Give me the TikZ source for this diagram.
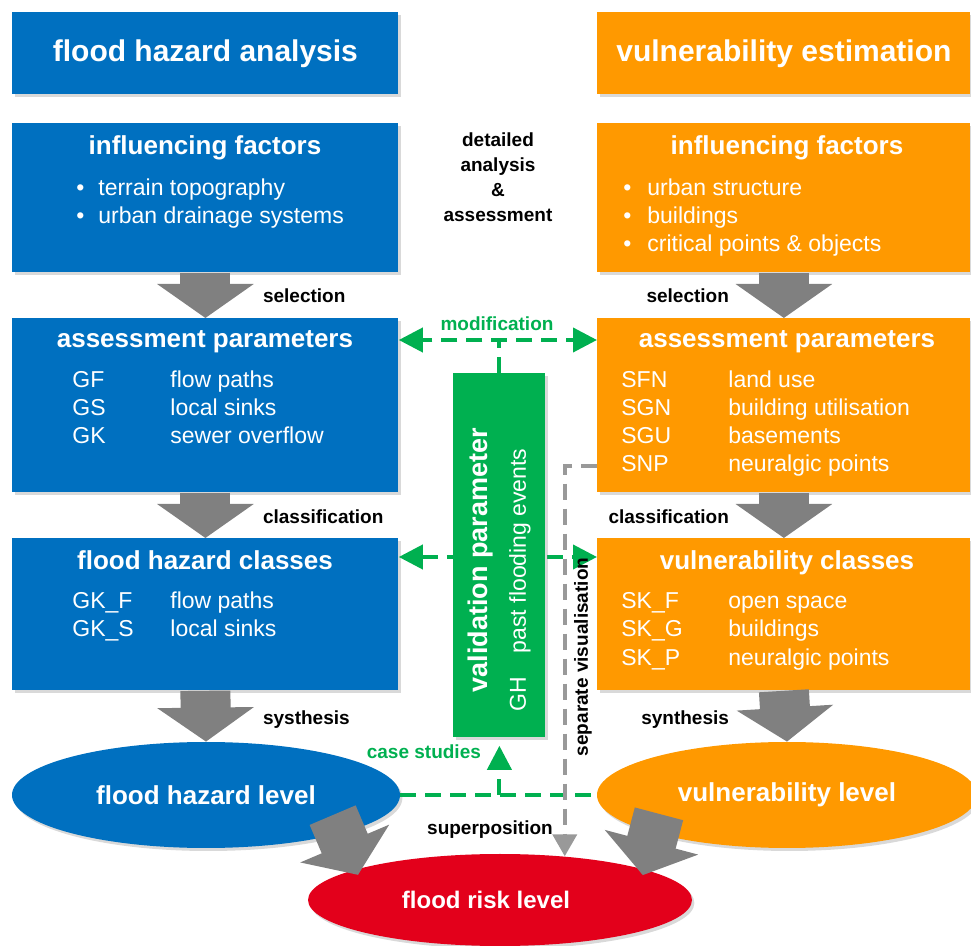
\documentclass[tikz,border=0pt]{standalone}
\usepackage{fontspec}
\setmainfont{Liberation Sans}
\usetikzlibrary{arrows.meta,shadows,shapes.geometric}

\definecolor{hazblue}{RGB}{0,112,192}
\definecolor{vulorange}{RGB}{255,153,0}
\definecolor{valgreen}{RGB}{0,176,80}
\definecolor{riskred}{RGB}{227,0,27}
\definecolor{arrgray}{RGB}{128,128,128}

\newcommand\hdfont{\fontsize{15}{18}\selectfont\bfseries}
\newcommand\ttlfont{\fontsize{13}{15}\selectfont\bfseries}
\newcommand\lblfont{\fontsize{9.5}{12.5}\selectfont\bfseries}

\tikzset{
    box/.style={anchor=north west, inner sep=0pt, text=white,
        drop shadow={shadow xshift=1.2pt, shadow yshift=-1.5pt, opacity=0.3}},
    haz/.style={box, fill=hazblue, minimum width=193pt},
    vul/.style={box, fill=vulorange, minimum width=186.5pt},
    level/.style={ellipse, inner sep=0pt, text=white, font=\ttlfont, minimum height=53pt,
        drop shadow={shadow xshift=1.2pt, shadow yshift=-1.5pt, opacity=0.3}},
    title/.style={anchor=base, text=white, font=\ttlfont},
    item/.style={anchor=base west, inner sep=0pt, text=white},
    lbl/.style={font=\lblfont},
    flow/.style={draw=arrgray, line width=25pt, -{Triangle[length=17pt, width=47.5pt]}},
    gdash/.style={draw=valgreen, line width=2pt, dash pattern=on 8pt off 4.5pt},
    gtip/.style={-{Triangle[length=12pt, width=12pt]}},
    gtips/.style={{Triangle[length=12pt, width=12pt]}-{Triangle[length=12pt, width=12pt]}},
    sepline/.style={draw=arrgray!80, line width=2pt, dash pattern=on 8pt off 4.5pt,
        -{Triangle[length=11pt, width=12pt]}}
}

\begin{document}
\begin{tikzpicture}[x=0.5pt, y=-0.5pt, font=\fontsize{11.5}{14}\selectfont]
        \useasboundingbox (0,0) rectangle (971,946);

        \node[haz, minimum height=41pt, font=\hdfont] (hazhead) at (12,12) {flood hazard analysis};
        \node[vul, minimum height=41pt, font=\hdfont] (vulhead) at (597,12) {vulnerability estimation};

        \node[haz, minimum height=74.5pt] (hazinf) at (12,123) {};
        \node[vul, minimum height=74.5pt] (vulinf) at (597,123) {};
        \node[haz, minimum height=87pt] (hazpar) at (12,318) {};
        \node[vul, minimum height=87pt] (vulpar) at (597,318) {};
        \node[haz, minimum height=76pt] (hazcls) at (12,538) {};
        \node[vul, minimum height=76pt] (vulcls) at (597,538) {};

        \node[title] (hazinftitle) at (205,155) {influencing factors};
        \node[title] (vulinftitle) at (787,155) {influencing factors};
        \node[title] (hazpartitle) at (205,348) {assessment parameters};
        \node[title] (vulpartitle) at (787,348) {assessment parameters};
        \node[title] (hazclstitle) at (205,570) {flood hazard classes};
        \node[title] (vulclstitle) at (787,570) {vulnerability classes};

        \foreach \y/\t in {196/terrain topography, 224/urban drainage systems}
        {
            \node[item] (hb\y) at (76,\y) {\textbullet};
            \node[item] (ht\y) at (98,\y) {\t};
        }
        \foreach \y/\t in {196/urban structure, 224/buildings, 252/critical points \& objects}
        {
            \node[item] (vb\y) at (623,\y) {\textbullet};
            \node[item] (vt\y) at (647,\y) {\t};
        }

        \foreach \y/\c/\d in {388/GF/flow paths, 416/GS/local sinks, 444/GK/sewer overflow}
        {
            \node[item] (hc\y) at (72,\y) {\c};
            \node[item] (hd\y) at (170,\y) {\d};
        }
        \foreach \y/\c/\d in {388/SFN/land use, 416/SGN/building utilisation, 444/SGU/basements, 472/SNP/neuralgic points}
        {
            \node[item] (vc\y) at (621,\y) {\c};
            \node[item] (vd\y) at (728,\y) {\d};
        }

        \foreach \y/\c/\d in {609/GK\_F/flow paths, 637/GK\_S/local sinks}
        {
            \node[item] (hk\y) at (72,\y) {\c};
            \node[item] (hl\y) at (170,\y) {\d};
        }
        \foreach \y/\c/\d in {609/SK\_F/open space, 637/SK\_G/buildings, 666/SK\_P/neuralgic points}
        {
            \node[item] (vk\y) at (621,\y) {\c};
            \node[item] (vl\y) at (728,\y) {\d};
        }

        \node[level, fill=hazblue, minimum width=194pt] (hazlevel) at (206,795) {flood hazard level};
        \node[level, fill=vulorange, minimum width=190pt] (vullevel) at (787,795) {vulnerability level};
        \node[level, fill=riskred, minimum width=192pt, minimum height=46pt, font=\fontsize{12}{14}\selectfont\bfseries] (risklevel) at (500,900) {flood risk level\hspace*{14pt}};

        \draw[gdash, gtips] ([yshift=-9.5pt]hazcls.north east) -- ([yshift=-9.5pt]vulcls.north west);

        \node[box, fill=valgreen, minimum width=46pt, minimum height=182pt] (valpar) at (453,373) {};
        \node[rotate=90, text=white, font=\fontsize{13.5}{16}\selectfont\bfseries] (valtitle) at (481,560) {validation parameter};
        \node[rotate=90, anchor=west, inner sep=0pt, text=white] (valitem) at (520,712) {GH\hspace{12pt}past flooding events};

        \draw[flow] (hazinf) -- (hazpar);
        \draw[flow] (vulinf) -- (vulpar);
        \draw[flow] (hazpar) -- (hazcls);
        \draw[flow] (vulpar) -- (vulcls);
        \draw[flow] (hazcls.south) -- (hazlevel.north);
        \draw[flow] (vulcls.south) -- (vullevel.north);
        \draw[flow, shorten <=-10pt, shorten >=-3pt] (hazlevel.-16) -- (risklevel.168);
        \draw[flow, shorten <=-10pt, shorten >=-3pt] (vullevel.196) -- (risklevel.12);

        \draw[gdash, gtip] (valpar.north) |- ([yshift=-11pt]hazpar.north east);
        \draw[gdash, gtip] (valpar.north) |- ([yshift=-11pt]vulpar.north west);
        \draw[gdash] (hazlevel.east) -- (vullevel.west);
        \draw[gdash, gtip] (valpar.south |- hazlevel.east) -- ([yshift=-4pt]valpar.south);
        \draw[sepline] ([yshift=13.5pt]vulpar.south west) -| (risklevel.34);

        \node[lbl, align=center] (detail) at (498,177) {detailed\\analysis\\\&\\assessment};
        \node[lbl, anchor=west] (hazsel) at (256,296) {selection};
        \node[lbl, anchor=east] (vulsel) at (736,296) {selection};
        \node[lbl, anchor=west] (hazclass) at (256,517) {classification};
        \node[lbl, anchor=east] (vulclass) at (736,517) {classification};
        \node[lbl, anchor=west] (hazsyn) at (256,720) {systhesis};
        \node[lbl, anchor=east] (vulsyn) at (736,720) {synthesis};
        \node[lbl, text=valgreen] (modif) at (497,324) {modification};
        \node[lbl, text=valgreen, anchor=east] (cases) at (488,752) {case studies};
        \node[lbl] (superpos) at (490,830) {superposition};
        \node[lbl, rotate=90] (sepvis) at (583,657) {separate visualisation};
    \end{tikzpicture}
\end{document}
